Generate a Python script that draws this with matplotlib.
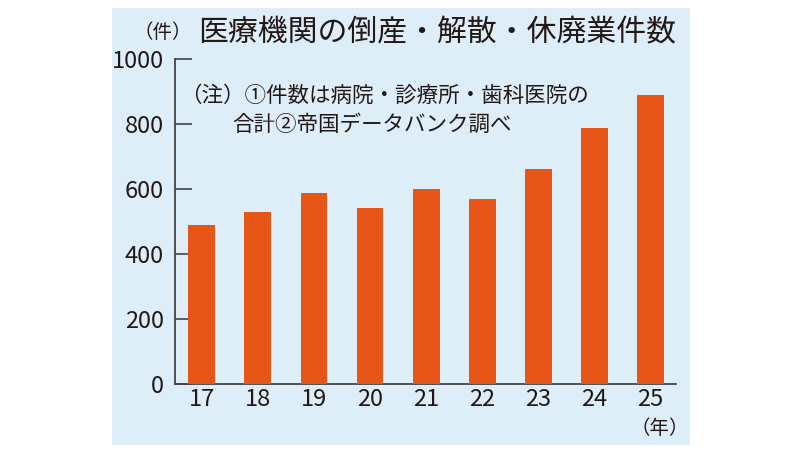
import matplotlib.pyplot as plt
from matplotlib.patches import Rectangle

plt.rcParams['font.family'] = ['Noto Sans CJK JP', 'DejaVu Sans']

# Data
years = ['17', '18', '19', '20', '21', '22', '23', '24', '25']
counts = [488, 529, 588, 541, 600, 569, 661, 788, 889]
yticks = [0, 200, 400, 600, 800, 1000]

title = '医療機関の倒産・解散・休廃業件数'
note1 = '（注）①件数は病院・診療所・歯科医院の'
note2 = '合計②帝国データバンク調べ'

bar_color = '#E85518'
panel_color = '#DDEEF8'
ink = '#231815'

fig = plt.figure(figsize=(8, 4.5), dpi=100)
fig.patch.set_facecolor('white')

# light blue panel (behind everything)
fig.patches.append(Rectangle((112 / 800, 5 / 450), 578 / 800, 437 / 450,
                             transform=fig.transFigure, facecolor=panel_color,
                             edgecolor='none', zorder=-10))

ax = fig.add_axes([175 / 800, 66 / 450, 501 / 800, 325 / 450])
ax.set_facecolor('none')

x = list(range(len(years)))
ax.bar(x, counts, width=0.48, color=bar_color, zorder=3)

ax.set_xlim(-0.48, 8.46)
ax.set_ylim(0, 1000)
ax.set_yticks(yticks)
ax.set_yticklabels([str(v) for v in yticks], fontsize=17, color=ink)
ax.set_xticks(x)
ax.set_xticklabels(years, fontsize=17, color=ink)

ax.tick_params(axis='y', direction='in', length=12, width=1.2, color='#444444', pad=8)
ax.tick_params(axis='x', length=0, pad=3)

for s in ['top', 'right']:
    ax.spines[s].set_visible(False)
for s in ['left', 'bottom']:
    ax.spines[s].set_color('#444444')
    ax.spines[s].set_linewidth(1.3)

# texts
fig.text(192 / 800, 1 - 33 / 450, '（件）', fontsize=14, color=ink, ha='right', va='center')
fig.text(198 / 800, 1 - 33 / 450, title, fontsize=21.5, color=ink, ha='left', va='center')
fig.text(180 / 800, 1 - 96 / 450, note1, fontsize=15.5, color=ink, ha='left', va='center')
fig.text(232 / 800, 1 - 125 / 450, note2, fontsize=15.5, color=ink, ha='left', va='center')
fig.text(660 / 800, 1 - 428 / 450, '（年）', fontsize=14, color=ink, ha='center', va='center')

fig.savefig('out.png', dpi=100)
